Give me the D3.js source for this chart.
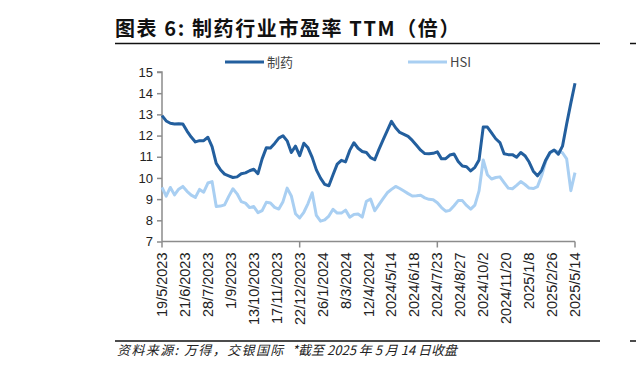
<!DOCTYPE html>
<html>
<head>
<meta charset="utf-8">
<script src="https://cdn.jsdelivr.net/npm/d3@7"></script>
<style>
  body { margin: 0; background: #fff; }
  svg { display: block; font-family: "Liberation Sans", Arial, sans-serif; }
</style>
</head>
<body>
<div id="chart"></div>
<script>
// Chart data
var tickLabels = ["19/5/2023", "21/6/2023", "28/7/2023", "1/9/2023", "13/10/2023",
  "17/11/2023", "22/12/2023", "26/1/2024", "8/3/2024", "12/4/2024", "2024/5/14",
  "2024/6/18", "2024/7/23", "2024/8/27", "2024/10/2", "2024/11/20", "2025/1/8",
  "2025/2/26", "2025/5/14"];

var seriesNames = ["制药", "HSI"];

var pharma = [12.94, 12.69, 12.58, 12.55, 12.56, 12.55, 12.21, 11.93, 11.70, 11.76,
  11.76, 11.92, 11.48, 10.69, 10.39, 10.18, 10.10, 10.02, 10.05, 10.20,
  10.24, 10.34, 10.41, 10.20, 10.90, 11.42, 11.41, 11.63, 11.88, 11.99,
  11.75, 11.20, 11.50, 11.05, 11.64, 11.42, 10.97, 10.38, 9.99, 9.70,
  9.63, 10.15, 10.65, 10.83, 10.76, 11.30, 11.66, 11.40, 11.25, 11.20,
  10.96, 10.86, 11.35, 11.80, 12.23, 12.67, 12.37, 12.15, 12.06, 11.96,
  11.77, 11.54, 11.31, 11.15, 11.14, 11.16, 11.23, 10.90, 10.91, 11.08,
  11.13, 10.78, 10.56, 10.53, 10.33, 10.50, 10.85, 12.40, 12.40, 12.13,
  11.85, 11.67, 11.14, 11.10, 11.10, 10.98, 11.20, 11.05, 10.75, 10.32,
  10.10, 10.36, 10.85, 11.20, 11.32, 11.12, 11.50, 12.55, 13.53, 14.47];

var hsi = [9.55, 9.14, 9.55, 9.20, 9.47, 9.60, 9.37, 9.19, 9.08, 9.46,
  9.33, 9.76, 9.83, 8.65, 8.67, 8.73, 9.13, 9.49, 9.25, 8.88,
  8.81, 8.60, 8.65, 8.36, 8.46, 8.85, 8.82, 8.61, 8.53, 8.88,
  9.52, 9.15, 8.31, 8.11, 8.38, 8.79, 9.30, 8.23, 7.96, 8.02,
  8.20, 8.52, 8.34, 8.34, 8.48, 8.15, 8.28, 8.30, 8.15, 8.90,
  9.00, 8.45, 8.74, 9.02, 9.30, 9.46, 9.60, 9.50, 9.38, 9.26,
  9.15, 9.16, 9.18, 9.06, 8.99, 8.97, 8.83, 8.60, 8.43, 8.47,
  8.69, 8.93, 8.93, 8.70, 8.53, 8.72, 9.39, 10.85, 10.15, 9.95,
  10.02, 10.05, 9.78, 9.52, 9.49, 9.65, 9.83, 9.69, 9.52, 9.50,
  9.59, 10.10, 10.80, 11.18, 11.30, 11.24, 11.19, 10.90, 9.40, 10.25];

var yTicks = [7, 8, 9, 10, 11, 12, 13, 14, 15];

// Chart parameters
var svgWidth = 636;
var svgHeight = 366;
var plot = { left: 162, right: 575, top: 72, bottom: 241.5 };
var darkBlue = "#235f9e";
var lightBlue = "#a9cff2";
var axisColor = "#8c8c8c";

var svg = d3.select("#chart")
  .append("svg")
  .attr("width", svgWidth)
  .attr("height", svgHeight);

// title and rules
svg.append("text")
  .attr("x", 115)
  .attr("y", 36)
  .attr("font-size", "20px")
  .attr("font-weight", "bold")
  .attr("letter-spacing", "1.6px")
  .attr("font-family", "'Noto Sans CJK SC', sans-serif")
  .attr("fill", "#111")
  .text("图表 6: 制药行业市盈率 TTM（倍）");

svg.append("line")
  .attr("x1", 115).attr("x2", 600)
  .attr("y1", 43.5).attr("y2", 43.5)
  .attr("stroke", "#111").attr("stroke-width", 1.5);

svg.append("line")
  .attr("x1", 115).attr("x2", 600)
  .attr("y1", 341).attr("y2", 341)
  .attr("stroke", "#111").attr("stroke-width", 1.5);

// bits of the neighbouring panel at the right edge
svg.append("line")
  .attr("x1", 630).attr("x2", 636).attr("y1", 43.5).attr("y2", 43.5)
  .attr("stroke", "#111").attr("stroke-width", 1.5);
svg.append("line")
  .attr("x1", 630).attr("x2", 636).attr("y1", 341).attr("y2", 341)
  .attr("stroke", "#111").attr("stroke-width", 1.5);

// footer: source note and date note
var footer = svg.append("text")
  .attr("y", 355)
  .attr("font-size", "13px")
  .attr("font-style", "italic")
  .attr("font-family", "'Noto Sans CJK SC', sans-serif")
  .attr("fill", "#222");

footer.append("tspan")
  .attr("x", 117)
  .attr("letter-spacing", "1.4px")
  .text("资料来源: 万得，交银国际");

footer.append("tspan")
  .attr("x", 292)
  .style("white-space", "pre")
  .text("*截至 2025 年 5 月 14 日收盘");

// scales
var xScale = d3.scaleLinear()
  .domain([0, pharma.length - 1])
  .range([plot.left, plot.right]);

var xLabelScale = d3.scalePoint()
  .domain(tickLabels)
  .range([plot.left, plot.right]);

var yScale = d3.scaleLinear()
  .domain([7, 15])
  .range([plot.bottom, plot.top]);

// y axis
var leftAxis = d3.axisLeft(yScale)
  .tickValues(yTicks)
  .tickSize(5)
  .tickPadding(4);

var yAxis = svg.append("g")
  .attr("transform", `translate(${plot.left}, 0)`)
  .call(leftAxis);

yAxis.selectAll("path, line")
  .attr("stroke", axisColor)
  .attr("stroke-width", 1.5);
yAxis.select(".domain").attr("d", `M-5,${plot.top}H0V${plot.bottom}`);
yAxis.selectAll("text")
  .attr("font-size", "13px")
  .attr("fill", "#222")
  .attr("font-family", "'Liberation Sans', Arial, sans-serif");

// x axis: tick marks at every 6th label, labels at all
var bottomAxis = d3.axisBottom(xLabelScale)
  .tickSize(0)
  .tickFormat("");

var xAxis = svg.append("g")
  .attr("transform", `translate(0, ${plot.bottom})`)
  .call(bottomAxis);

xAxis.select(".domain")
  .attr("stroke", axisColor)
  .attr("stroke-width", 1.5)
  .attr("d", `M${plot.left},0H${plot.right}`);

xAxis.selectAll(".tick line").remove();

xAxis.selectAll(".majorTick")
  .data(tickLabels.filter((d, i) => i % 6 === 0))
  .enter()
  .append("line")
  .classed("majorTick", true)
  .attr("x1", d => xLabelScale(d))
  .attr("x2", d => xLabelScale(d))
  .attr("y1", 0)
  .attr("y2", 6)
  .attr("stroke", axisColor)
  .attr("stroke-width", 1.5);

xAxis.selectAll(".xLabel")
  .data(tickLabels)
  .enter()
  .append("text")
  .classed("xLabel", true)
  .attr("transform", d => `translate(${xLabelScale(d) + 5}, 11) rotate(-90)`)
  .attr("text-anchor", "end")
  .attr("font-size", "14.5px")
  .attr("fill", "#222")
  .text(d => d);

// lines
var lineGen = d3.line()
  .x((d, i) => xScale(i))
  .y(d => yScale(d));

svg.append("path")
  .datum(hsi)
  .attr("fill", "none")
  .attr("stroke", lightBlue)
  .attr("stroke-width", 3)
  .attr("stroke-linejoin", "round")
  .attr("d", lineGen);

svg.append("path")
  .datum(pharma)
  .attr("fill", "none")
  .attr("stroke", darkBlue)
  .attr("stroke-width", 3)
  .attr("stroke-linejoin", "round")
  .attr("d", lineGen);

// legend
var legendItems = [
  { name: seriesNames[0], color: darkBlue, x: 225 },
  { name: seriesNames[1], color: lightBlue, x: 408 }
];

var legend = svg.selectAll(".legend")
  .data(legendItems)
  .enter()
  .append("g")
  .classed("legend", true)
  .attr("transform", d => `translate(${d.x}, 62)`);

legend.append("line")
  .attr("x1", 0).attr("x2", 39)
  .attr("y1", 0).attr("y2", 0)
  .attr("stroke", d => d.color)
  .attr("stroke-width", 3);

legend.append("text")
  .attr("x", 42)
  .attr("y", 5)
  .attr("font-size", "13px")
  .attr("fill", "#444")
  .attr("font-family", "'Noto Sans CJK SC', 'Liberation Sans', sans-serif")
  .text(d => d.name);
</script>
</body>
</html>
